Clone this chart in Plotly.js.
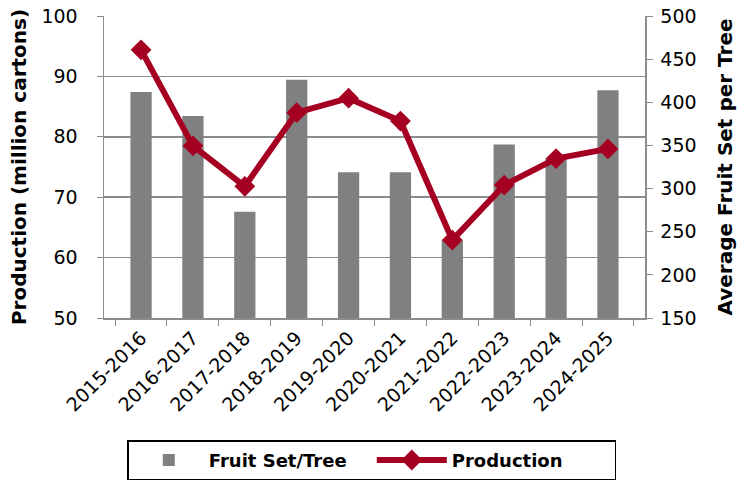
<!DOCTYPE html>
<html><head><meta charset="utf-8">
<script src="https://cdn.plot.ly/plotly-3.0.1.min.js"></script>
<style>html,body{margin:0;padding:0;background:#fff}#c{width:739px;height:493px}</style>
</head><body><div id="c"></div>
<script>
const seasons = ["2015-2016","2016-2017","2017-2018","2018-2019","2019-2020","2020-2021","2021-2022","2022-2023","2023-2024","2024-2025"];
const fruitSetPerTree = [412, 384, 273, 426, 319, 319, 240, 351, 335, 414];
const productionMillionCartons = [94.4, 78.5, 71.8, 84.0, 86.4, 82.6, 62.9, 72.0, 76.4, 78.0];

const FONT = "'DejaVu Sans', sans-serif";
const GRID = "#8c8c8c";

const traces = [
  {type:"bar", name:"Fruit Set/Tree", x:seasons, y:fruitSetPerTree, yaxis:"y",
   marker:{color:"#808080", line:{width:0}}},
  {type:"scatter", mode:"lines+markers", name:"Production", x:seasons, y:productionMillionCartons, yaxis:"y2",
   line:{color:"#A50021", width:6}, marker:{symbol:"diamond", size:16, color:"#A50021"}}
];

const layout = {
  width:739, height:493,
  margin:{l:104, r:94, t:16, b:173},
  paper_bgcolor:"#fff", plot_bgcolor:"#fff",
  font:{family:FONT, size:19, color:"#000"},
  bargap:0.59,
  showlegend:true,
  legend:{orientation:"h", x:0.495, xanchor:"center", y:-0.405, yanchor:"top",
    bordercolor:"#000", borderwidth:1.5, font:{family:FONT, size:18, color:"#000", weight:"bold"},
    entrywidth:158, itemwidth:70},
  xaxis:{type:"category", tickangle:-45, tickson:"boundaries", ticks:"outside", ticklen:6,
    tickcolor:GRID, showline:true, linecolor:GRID, linewidth:1.5, showgrid:false,
    tickfont:{size:19}, automargin:false},
  yaxis:{side:"right", range:[150,500], dtick:50, showgrid:false, zeroline:false,
    showline:true, linecolor:GRID, linewidth:1.5, ticks:"outside", ticklen:6, tickcolor:GRID,
    ticklabelstandoff:4,
    minor:{tick0:150, dtick:70, showgrid:true, gridcolor:GRID, gridwidth:1.5, ticks:""},
    title:{text:"Average Fruit Set per Tree", font:{size:20, weight:"bold"}, standoff:22}},
  yaxis2:{overlaying:"y", side:"left", range:[50,100], dtick:10, showgrid:false,
    zeroline:false, showline:true, linecolor:GRID, linewidth:1.5, ticks:"outside", ticklen:6, tickcolor:GRID,
    ticklabelstandoff:15,
    title:{text:"Production (million cartons)", font:{size:20, weight:"bold"}, standoff:9}}
};
Plotly.newPlot("c", traces, layout, {displayModeBar:false, staticPlot:true});
</script></body></html>
